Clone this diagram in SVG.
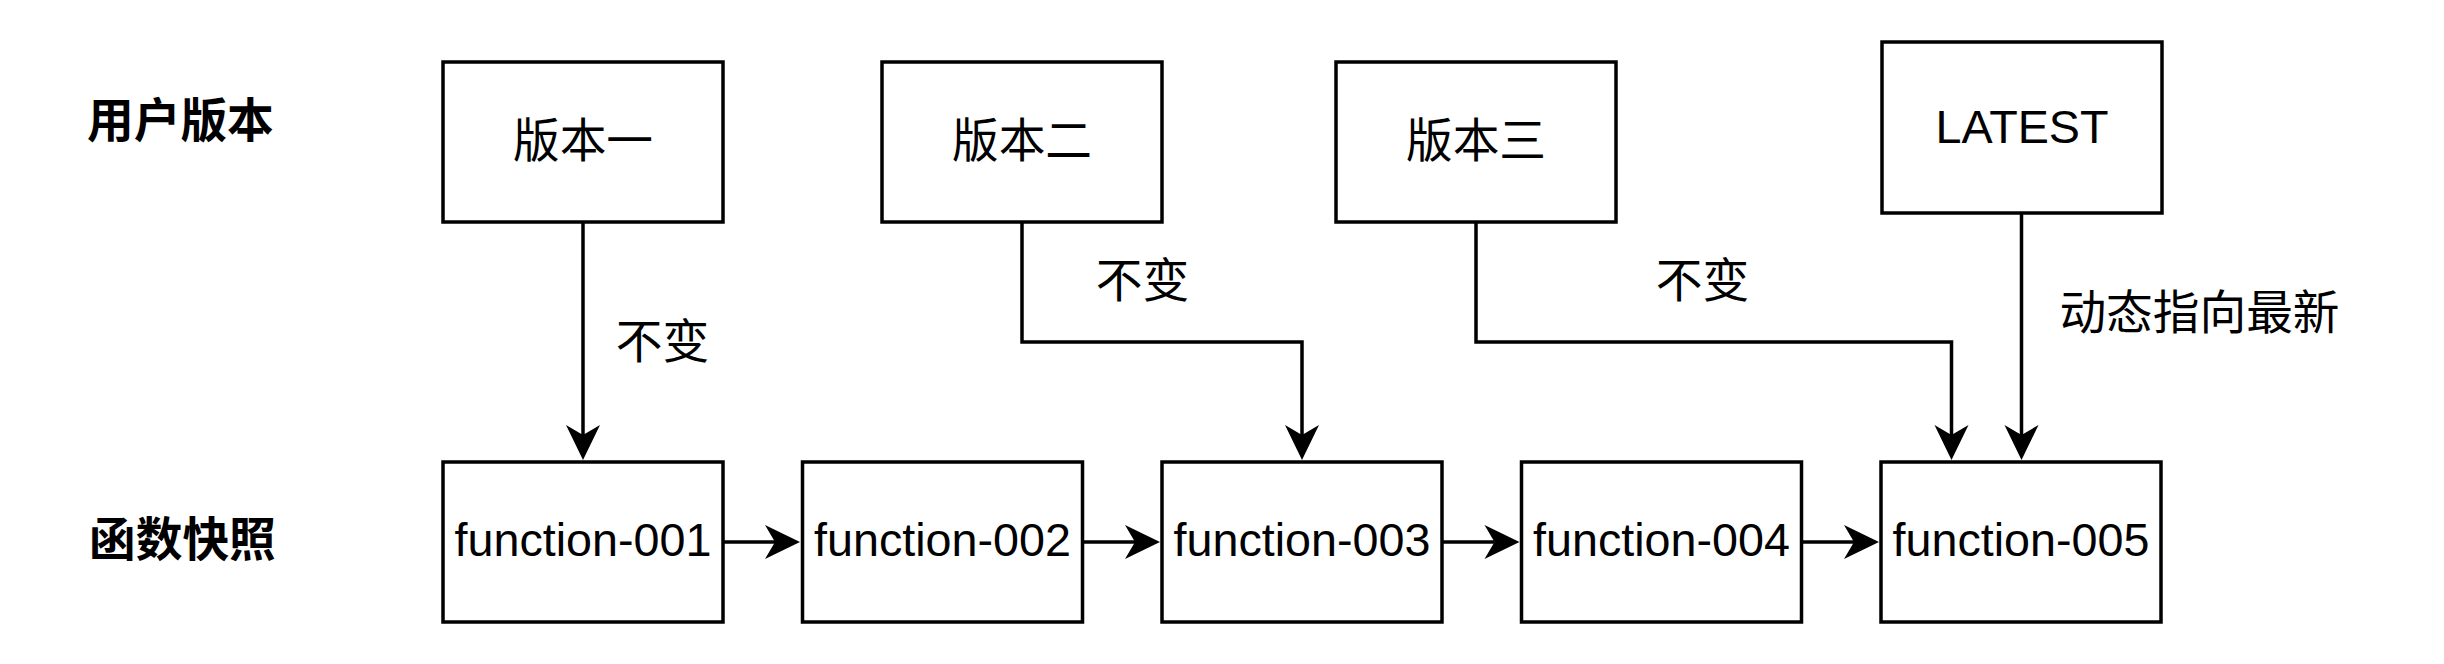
<svg xmlns="http://www.w3.org/2000/svg" width="2444" height="664" viewBox="0 0 2444 664">
  <style>
    .box { fill: #ffffff; stroke: #000000; stroke-width: 3.5; }
    .edge { fill: none; stroke: #000000; stroke-width: 3.5; }
    .t { font-family: "Liberation Sans", "Noto Sans CJK SC", sans-serif; font-size: 46.7px; fill: #000000; text-anchor: middle; }
    .cjk { font-family: "Noto Sans CJK SC", "Liberation Sans", sans-serif; font-size: 46.7px; fill: #000000; }
    .head { font-family: "Noto Sans CJK SC", "Liberation Sans", sans-serif; font-size: 46.7px; font-weight: bold; fill: #000000; }
  </style>
  <defs>
    <marker id="arrow" markerUnits="userSpaceOnUse" viewBox="-12 -20 40 40" markerWidth="40" markerHeight="40" refX="0" refY="0" orient="auto" overflow="visible">
      <path d="M25,0 L-10,-17 L0,0 L-10,17 Z" fill="#000000" stroke="none"/>
    </marker>
  </defs>
  <rect width="2444" height="664" fill="#ffffff"/>

  <g id="row-labels">
    <text class="head" x="87" y="137">用户版本</text>
    <text class="head" x="89" y="556">函数快照</text>
  </g>

  <g id="connectors">
    <path class="edge" d="M583,222 L583,435" marker-end="url(#arrow)"/>
    <path class="edge" d="M1022,222 L1022,342 L1302,342 L1302,435" marker-end="url(#arrow)"/>
    <path class="edge" d="M1476,222 L1476,342 L1951.5,342 L1951.5,435" marker-end="url(#arrow)"/>
    <path class="edge" d="M2021.5,213 L2021.5,435" marker-end="url(#arrow)"/>
    <path class="edge" d="M723,542 L775,542" marker-end="url(#arrow)"/>
    <path class="edge" d="M1082.5,542 L1135,542" marker-end="url(#arrow)"/>
    <path class="edge" d="M1442,542 L1494.5,542" marker-end="url(#arrow)"/>
    <path class="edge" d="M1801.5,542 L1854,542" marker-end="url(#arrow)"/>
    <text class="cjk" x="662.5" y="358" text-anchor="middle">不变</text>
    <text class="cjk" x="1142.5" y="297" text-anchor="middle">不变</text>
    <text class="cjk" x="1702.5" y="297" text-anchor="middle">不变</text>
    <text class="cjk" x="2199.5" y="329" text-anchor="middle">动态指向最新</text>
  </g>

  <g id="v1">
    <rect class="box" x="443" y="62" width="280" height="160"/>
    <text class="t" x="583" y="157">版本一</text>
  </g>
  <g id="v2">
    <rect class="box" x="882" y="62" width="280" height="160"/>
    <text class="t" x="1022" y="157">版本二</text>
  </g>
  <g id="v3">
    <rect class="box" x="1336" y="62" width="280" height="160"/>
    <text class="t" x="1476" y="157">版本三</text>
  </g>
  <g id="latest">
    <rect class="box" x="1882" y="42" width="280" height="171"/>
    <text class="t" x="2022" y="143">LATEST</text>
  </g>

  <g id="f001">
    <rect class="box" x="443" y="462" width="280" height="160"/>
    <text class="t" x="583" y="556">function-001</text>
  </g>
  <g id="f002">
    <rect class="box" x="802.5" y="462" width="280" height="160"/>
    <text class="t" x="942.5" y="556">function-002</text>
  </g>
  <g id="f003">
    <rect class="box" x="1162" y="462" width="280" height="160"/>
    <text class="t" x="1302" y="556">function-003</text>
  </g>
  <g id="f004">
    <rect class="box" x="1521.5" y="462" width="280" height="160"/>
    <text class="t" x="1661.5" y="556">function-004</text>
  </g>
  <g id="f005">
    <rect class="box" x="1881" y="462" width="280" height="160"/>
    <text class="t" x="2021" y="556">function-005</text>
  </g>
</svg>
